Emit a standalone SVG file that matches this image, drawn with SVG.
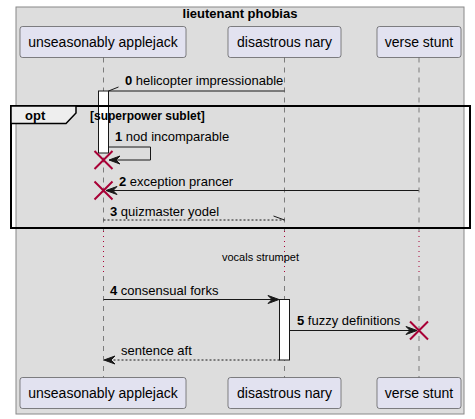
<svg xmlns="http://www.w3.org/2000/svg" width="475" height="419" viewBox="0 0 475 419">
<style>
text{font-family:"Liberation Sans",Arial,sans-serif;fill:#000}
.p rect{fill:#E2E2F0;stroke:#181818;stroke-width:0.5}
.p text{font-size:14px;text-anchor:middle}
.m{font-size:13px}
.m tspan.n{font-weight:bold}
.life{stroke:#181818;stroke-width:0.5;stroke-dasharray:5,5;fill:none}
.delay{stroke:#A80036;stroke-width:1;stroke-dasharray:1,4;fill:none}
.ln{stroke:#181818;stroke-width:1;fill:none}
.dash{stroke:#181818;stroke-width:1;stroke-dasharray:2,2;fill:none}
.ah{fill:#181818;stroke:#181818;stroke-width:1}
.x{stroke:#A80036;stroke-width:2}
.act{fill:#FFFFFF;stroke:#181818;stroke-width:1}
</style>
<rect x="16" y="7" width="448" height="407" fill="#DDDDDD" stroke="#888888" stroke-width="1"/>
<text x="240" y="18" font-size="13" font-weight="bold" text-anchor="middle">lieutenant phobias</text>

<g id="lifelines">
<path class="life" d="M103.5,57.5V231M103.5,276V377.5M284.5,57.5V231M284.5,276V377.5M419,57.5V231M419,276V377.5"/>
<path class="delay" d="M103.5,231V276M284.5,231V276M419,231V276"/>
</g>

<g id="p-applejack" class="p">
<rect x="20" y="26.5" width="166" height="31" rx="2.5"/>
<text x="103" y="47">unseasonably applejack</text>
<rect x="20" y="377.5" width="166" height="31" rx="2.5"/>
<text x="103" y="398">unseasonably applejack</text>
</g>
<g id="p-nary" class="p">
<rect x="228" y="26.5" width="113" height="31" rx="2.5"/>
<text x="284.5" y="47">disastrous nary</text>
<rect x="228" y="377.5" width="113" height="31" rx="2.5"/>
<text x="284.5" y="398">disastrous nary</text>
</g>
<g id="p-verse" class="p">
<rect x="377" y="26.5" width="84" height="31" rx="2.5"/>
<text x="419" y="47">verse stunt</text>
<rect x="377" y="377.5" width="84" height="31" rx="2.5"/>
<text x="419" y="398">verse stunt</text>
</g>

<g id="activations">
<rect class="act" x="98.5" y="91" width="10" height="62"/>
<rect class="act" x="279.5" y="299.5" width="10" height="60.5"/>
</g>

<g id="opt-frame">
<rect x="11" y="106" width="459" height="122" fill="none" stroke="#000" stroke-width="2"/>
<polygon points="11,106 76,106 76,113 66,123.5 11,123.5" fill="#EEEEEE" stroke="#000" stroke-width="1.5"/>
<text x="25" y="120" font-size="13" font-weight="bold">opt</text>
<text x="90" y="120" font-size="12" font-weight="bold">[superpower sublet]</text>
</g>

<g id="connectors">
<path class="ln" d="M284.5,91H108.5L118.5,87"/>
<text class="m" x="125" y="84.5"><tspan class="n">0</tspan> helicopter impressionable</text>

<path class="ln" d="M108.5,147H150.5V160H110"/>
<polygon class="ah" points="109,160 120,156 116,160 120,164"/>
<text class="m" x="115" y="141"><tspan class="n">1</tspan> nod incomparable</text>

<path class="ln" d="M418.7,190.5H107"/>
<polygon class="ah" points="106,190.5 117,186.5 113,190.5 117,194.5"/>
<text class="m" x="119" y="185.5"><tspan class="n">2</tspan> exception prancer</text>

<path class="dash" d="M103.5,220H284.5"/>
<path class="ln" d="M284.5,220L273.5,216"/>
<text class="m" x="110" y="215.5"><tspan class="n">3</tspan> quizmaster yodel</text>

<text x="222" y="261" font-size="11">vocals strumpet</text>

<path class="ln" d="M103.5,299.5H278"/>
<polygon class="ah" points="279,299.5 268,295.5 272,299.5 268,303.5"/>
<text class="m" x="110" y="295"><tspan class="n">4</tspan> consensual forks</text>

<path class="ln" d="M289.5,330.5H416"/>
<polygon class="ah" points="417,330.5 406,326.5 410,330.5 406,334.5"/>
<text class="m" x="297" y="325"><tspan class="n">5</tspan> fuzzy definitions</text>

<path class="dash" d="M279.5,360H105"/>
<polygon class="ah" points="104,360 115,356 111,360 115,364"/>
<text class="m" x="121" y="355">sentence aft</text>
</g>

<g id="destroys">
<path class="x" d="M94.5,151L112.5,169M112.5,151L94.5,169"/>
<path class="x" d="M94.5,181.5L112.5,199.5M112.5,181.5L94.5,199.5"/>
<path class="x" d="M410,321.5L428,339.5M428,321.5L410,339.5"/>
</g>
</svg>
